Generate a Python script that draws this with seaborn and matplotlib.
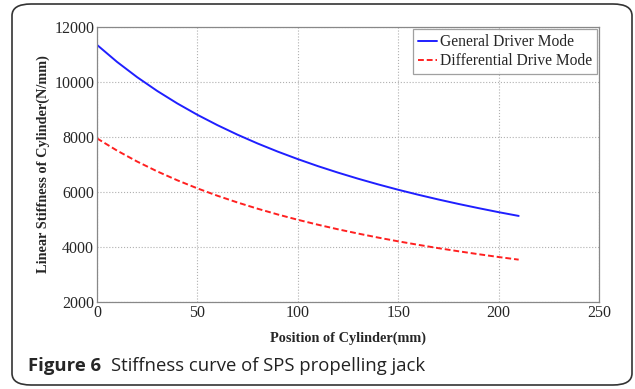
import pandas as pd
import seaborn as sns
import matplotlib.pyplot as plt
from matplotlib.patches import FancyBboxPatch

# position of cylinder (mm)
position = [0, 10, 20, 30, 40, 50, 60, 70, 80, 90, 100,
            110, 120, 130, 140, 150, 160, 170, 180, 190, 200, 210]
# general driver mode stiffness (N/mm)
general = [11350, 10730, 10175, 9674, 9220, 8807, 8430, 8083, 7764, 7469, 7196,
           6941, 6705, 6484, 6277, 6082, 5900, 5728, 5566, 5413, 5267, 5130]
# differential drive mode stiffness (N/mm)
differential = [7950, 7505, 7107, 6749, 6426, 6132, 5863, 5618, 5392, 5183, 4990,
                4811, 4644, 4489, 4343, 4206, 4079, 3958, 3845, 3738, 3636, 3540]

df = pd.DataFrame({'position': position, 'General Driver Mode': general,
                   'Differential Drive Mode': differential})

sns.set_style('white')
plt.rcParams['font.family'] = ['Liberation Serif', 'DejaVu Serif']

fig = plt.figure(figsize=(6.35, 3.89), dpi=100)
ax = fig.add_axes([97 / 635, 1 - 302 / 389, 502 / 635, 275 / 389])

sns.lineplot(data=df, x='position', y='General Driver Mode', ax=ax,
             color='#1f1fff', lw=1.4, label='General Driver Mode')
sns.lineplot(data=df, x='position', y='Differential Drive Mode', ax=ax,
             color='#ff2020', lw=1.4, ls=(0, (3, 1.5)), label='Differential Drive Mode')

ax.set_xlim(0, 250)
ax.set_ylim(2000, 12000)
ax.set_xticks([0, 50, 100, 150, 200, 250])
ax.set_yticks([2000, 4000, 6000, 8000, 10000, 12000])
ax.grid(True, ls=':', color='#b0b0b0', lw=0.8)
ax.tick_params(labelsize=11.5, length=0, pad=2)
for s in ax.spines.values():
    s.set_color('#888888')
    s.set_linewidth(0.9)

ax.set_xlabel('Position of Cylinder(mm)', fontsize=10.3, fontweight='bold', labelpad=8)
ax.set_ylabel('Linear Stiffness of Cylinder(N/mm)', fontsize=10.3, fontweight='bold', labelpad=3)

leg = ax.legend(loc='upper right', fontsize=11.2, frameon=True, fancybox=False,
                handlelength=1.2, handletextpad=0.2, borderpad=0.3, labelspacing=0.2,
                borderaxespad=0.15)
leg.get_frame().set_edgecolor('#888888')
leg.get_frame().set_linewidth(0.9)

# rounded frame round the figure
box = FancyBboxPatch((12 / 635, 4 / 389), 620 / 635, 381 / 389,
                     boxstyle='round,pad=0,rounding_size=0.03',
                     transform=fig.transFigure, fill=False, ec='#333333', lw=1.2)
fig.patches.append(box)

t1 = fig.text(28 / 635, 1 - 366 / 389, 'Figure 6', fontsize=13.3, fontweight='bold',
              family=['Open Sans', 'DejaVu Sans'], va='center')
fig.canvas.draw()
bb = t1.get_window_extent()
fig.text(bb.x1 / 635 + 10 / 635, 1 - 366 / 389, 'Stiffness curve of SPS propelling jack',
         fontsize=13.3, family=['Open Sans', 'DejaVu Sans'], va='center', color='#222222')

fig.savefig('out.png', dpi=100)
